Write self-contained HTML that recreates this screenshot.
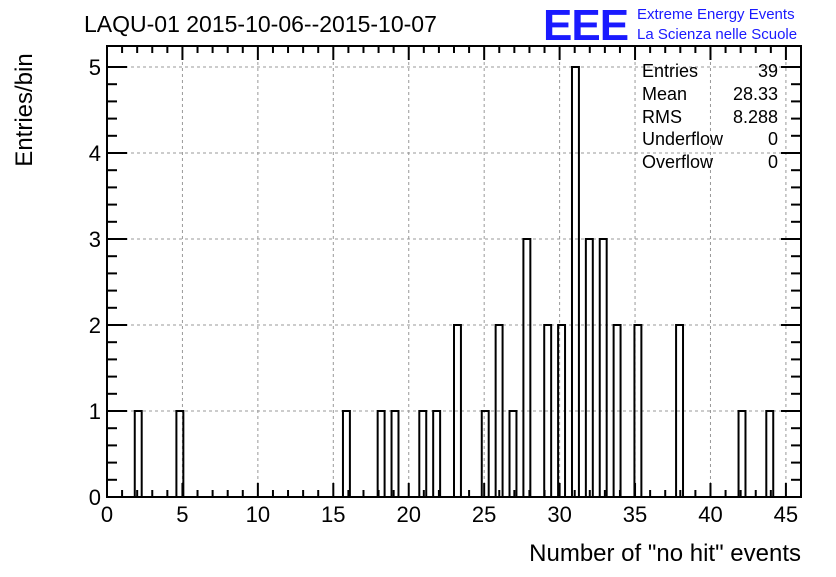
<!DOCTYPE html>
<html><head><meta charset="utf-8"><style>
body{margin:0;background:#fff;}
svg text{font-family:"Liberation Sans",sans-serif;}
</style></head><body>
<svg width="836" height="572" xmlns="http://www.w3.org/2000/svg">
<rect width="836" height="572" fill="#fff"/>
<g id="grid"></g>
<g id="bars"></g>
<g id="axes"></g>
<text x="84" y="32" font-size="23">LAQU-01 2015-10-06--2015-10-07</text>
<g>
<text x="543" y="40" font-size="44" font-weight="bold" fill="#1a1aff" letter-spacing="-1">EEE</text>
<text x="637" y="19" font-size="15" fill="#1a1aff">Extreme Energy Events</text>
<text x="637" y="39" font-size="15" fill="#1a1aff">La Scienza nelle Scuole</text>
</g>
<g font-size="18">
<text x="642" y="77">Entries</text><text x="778" y="77" text-anchor="end">39</text>
<text x="642" y="100">Mean</text><text x="778" y="100" text-anchor="end">28.33</text>
<text x="642" y="123">RMS</text><text x="778" y="123" text-anchor="end">8.288</text>
<text x="642" y="145">Underflow</text><text x="778" y="145" text-anchor="end">0</text>
<text x="642" y="168">Overflow</text><text x="778" y="168" text-anchor="end">0</text>
</g>
<text transform="translate(32,110) rotate(-90)" text-anchor="middle" font-size="24">Entries/bin</text>
<text x="801" y="561" text-anchor="end" font-size="24">Number of "no hit" events</text>
</svg>
<script>
const values = [2,5,16,18,19,21,22,23,25,26,27,28,29,30,31,32,33,34,35,38,42,44];
const counts = [1,1,1,1,1,1,1,2,1,2,1,3,2,2,5,3,3,2,2,2,1,1];
const xTicks = [0,5,10,15,20,25,30,35,40,45];
const yTicks = [0,1,2,3,4,5];
const X0=107,X1=801,Y0=497,Y1=46,XMAX=46,BINW=0.46;
const sx=v=>X0+v*(X1-X0)/XMAX;
const sy=v=>Y0-v*86;
const NS='http://www.w3.org/2000/svg';
function mk(t,a,p){const e=document.createElementNS(NS,t);for(const k in a)e.setAttribute(k,a[k]);p.appendChild(e);return e;}
const grid=document.getElementById('grid'),bars=document.getElementById('bars'),axes=document.getElementById('axes');
xTicks.forEach(v=>{const l=mk('line',{x1:sx(v),x2:sx(v),y1:Y0,y2:Y1,stroke:'#999','stroke-dasharray':'3,3','stroke-width':1},grid);
});
yTicks.forEach(v=>{const l=mk('line',{x1:X0,x2:X1,y1:sy(v),y2:sy(v),stroke:'#999','stroke-dasharray':'3,3','stroke-width':1},grid);
});
values.forEach((v,i)=>{const b=Math.floor(v/BINW+1e-9);const l=b*BINW,r=l+BINW;
const p=mk('path',{d:`M${sx(l)},${Y0}V${sy(counts[i])}H${sx(r)}V${Y0}`,fill:'none',stroke:'#000','stroke-width':2},bars);
});
const f=mk('rect',{x:X0,y:Y1,width:X1-X0,height:Y0-Y1,fill:'none',stroke:'#000','stroke-width':2},axes);

for(let v=0;v<=XMAX;v++){const L=v%5==0?14:7;
mk('line',{x1:sx(v),x2:sx(v),y1:Y0,y2:Y0-L,stroke:'#000','stroke-width':2},axes);
mk('line',{x1:sx(v),x2:sx(v),y1:Y1,y2:Y1+L,stroke:'#000','stroke-width':2},axes);}
for(let k=0;k<=25;k++){const v=k*0.2;const L=k%5==0?20:10;
mk('line',{x1:X0,x2:X0+L,y1:sy(v),y2:sy(v),stroke:'#000','stroke-width':2},axes);
mk('line',{x1:X1,x2:X1-L,y1:sy(v),y2:sy(v),stroke:'#000','stroke-width':2},axes);}
xTicks.forEach(v=>{const t=mk('text',{x:sx(v),y:522,'text-anchor':'middle','font-size':22},axes);t.textContent=v;
});
yTicks.forEach(v=>{const t=mk('text',{x:X0-6,y:sy(v)+8,'text-anchor':'end','font-size':22},axes);t.textContent=v;
});
</script>
</body></html>
